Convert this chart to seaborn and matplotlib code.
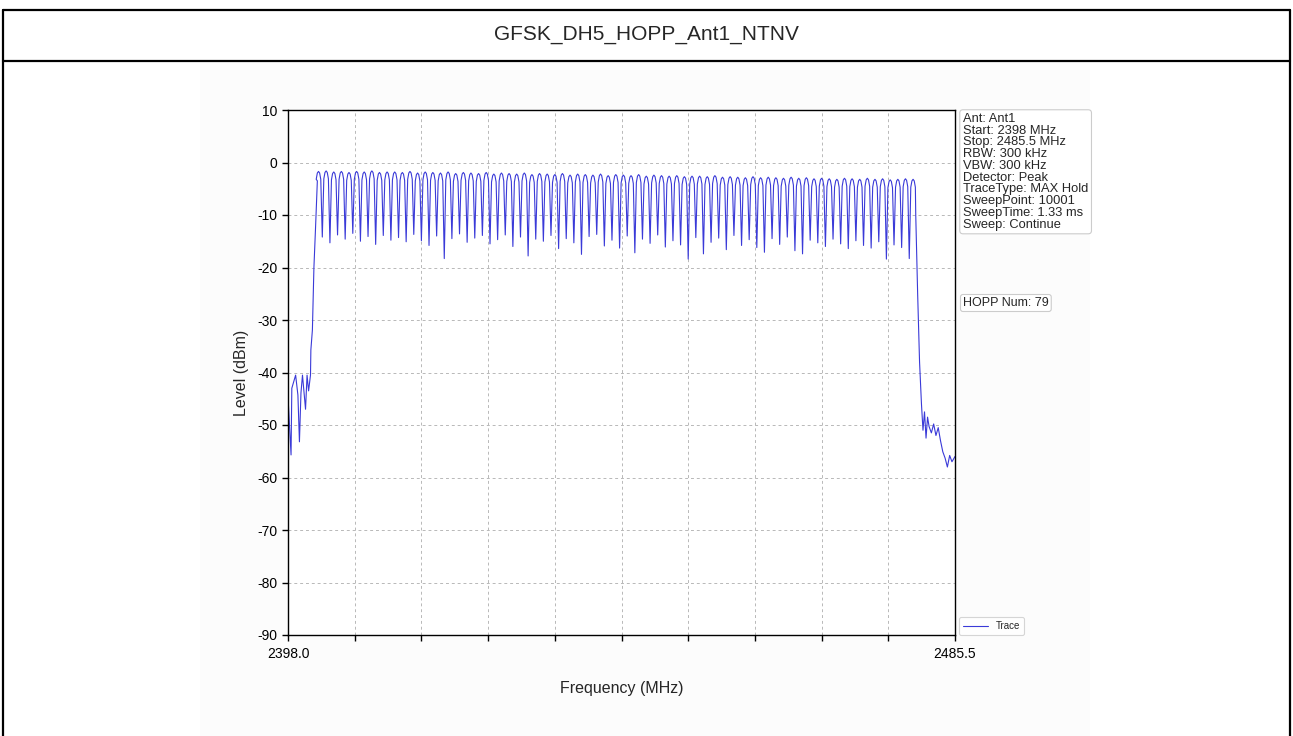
import numpy as np
import pandas as pd
import matplotlib
matplotlib.use("Agg")
import matplotlib.pyplot as plt
from matplotlib.lines import Line2D
from matplotlib.patches import Rectangle
import seaborn as sns

sns.set_theme(style="ticks")
plt.rcParams['font.family'] = ['Liberation Sans', 'DejaVu Sans']
plt.rcParams['axes.unicode_minus'] = False

# ---- data ----
TITLE = "GFSK_DH5_HOPP_Ant1_NTNV"
INFO_LINES = ["Ant: Ant1", "Start: 2398 MHz", "Stop: 2485.5 MHz", "RBW: 300 kHz",
              "VBW: 300 kHz", "Detector: Peak", "TraceType: MAX Hold",
              "SweepPoint: 10001", "SweepTime: 1.33 ms", "Sweep: Continue"]
HOPP_NUM = 79

START_MHZ = 2398.0
STOP_MHZ = 2485.5
Y_TICKS = [10, 0, -10, -20, -30, -40, -50, -60, -70, -80, -90]

# hopping channel centres (MHz)
CHANNEL_MHZ = [2402, 2403, 2404, 2405, 2406, 2407, 2408, 2409, 2410, 2411,
               2412, 2413, 2414, 2415, 2416, 2417, 2418, 2419, 2420, 2421,
               2422, 2423, 2424, 2425, 2426, 2427, 2428, 2429, 2430, 2431,
               2432, 2433, 2434, 2435, 2436, 2437, 2438, 2439, 2440, 2441,
               2442, 2443, 2444, 2445, 2446, 2447, 2448, 2449, 2450, 2451,
               2452, 2453, 2454, 2455, 2456, 2457, 2458, 2459, 2460, 2461,
               2462, 2463, 2464, 2465, 2466, 2467, 2468, 2469, 2470, 2471,
               2472, 2473, 2474, 2475, 2476, 2477, 2478, 2479, 2480]

# peak level of each channel (dBm)
PEAK_DBM = [-1.7, -1.6, -1.8, -1.7, -1.9, -1.7, -1.8, -1.6, -1.9, -1.8,
            -1.8, -1.9, -1.7, -2.0, -1.8, -1.9, -2.0, -1.8, -2.1, -1.9,
            -2.0, -2.1, -1.9, -2.2, -2.0, -2.1, -2.2, -2.0, -2.3, -2.1,
            -2.2, -2.3, -2.1, -2.4, -2.2, -2.3, -2.4, -2.2, -2.5, -2.3,
            -2.4, -2.5, -2.3, -2.6, -2.4, -2.5, -2.6, -2.5, -2.7, -2.6,
            -2.6, -2.7, -2.5, -2.8, -2.7, -2.8, -2.9, -2.7, -2.9, -2.8,
            -2.9, -3.0, -2.8, -3.0, -2.9, -3.1, -3.0, -3.1, -3.2, -3.0,
            -3.1, -3.2, -3.0, -3.2, -3.1, -3.3, -3.2, -3.1, -3.2]

# dip between neighbouring channels (dBm)
TROUGH_DBM = [-14.2, -15.3, -13.8, -14.6, -13.5, -15.0, -14.1, -15.6, -13.9, -14.8,
              -14.3, -15.1, -13.7, -14.9, -15.8, -14.0, -18.3, -14.5, -13.6, -15.2,
              -14.4, -13.9, -15.5, -14.7, -13.8, -16.0, -14.2, -17.8, -14.6, -15.0,
              -13.9, -16.4, -14.5, -15.3, -17.5, -14.1, -13.7, -15.9, -14.8, -16.3,
              -14.0, -17.2, -14.6, -15.4, -13.8, -16.1, -14.9, -15.7, -18.4, -14.3,
              -17.4, -15.2, -14.4, -16.6, -13.9, -15.8, -14.7, -16.2, -17.1, -14.5,
              -15.6, -14.2, -16.8, -17.4, -14.8, -15.3, -16.0, -14.6, -15.5, -16.4,
              -14.9, -15.8, -16.3, -15.1, -18.4, -15.7, -16.2, -18.3]

# out-of-band trace below the first channel
LEFT_MHZ = [2398.0, 2398.4, 2398.5, 2399.0, 2399.3, 2399.5, 2399.7, 2399.9,
            2400.05, 2400.3, 2400.5, 2400.7, 2400.95, 2401.0, 2401.2, 2401.4,
            2401.6, 2401.85]
LEFT_DBM = [-44.6, -55.7, -43.0, -40.5, -44.3, -53.2, -43.9, -40.5,
            -43.0, -47.0, -40.5, -43.5, -40.5, -35.7, -31.9, -20.0,
            -12.9, -3.5]

# out-of-band trace above the last channel
RIGHT_MHZ = [2480.35, 2480.6, 2480.85, 2481.1, 2481.3, 2481.5, 2481.7, 2481.9,
             2482.1, 2482.4, 2482.7, 2483.0, 2483.3, 2483.6, 2483.9, 2484.2,
             2484.5, 2484.8, 2485.1, 2485.5]
RIGHT_DBM = [-10.0, -25.0, -38.0, -46.0, -51.0, -47.5, -52.5, -48.5,
             -50.3, -51.5, -49.8, -52.0, -50.5, -53.0, -55.1, -56.3,
             -58.0, -55.8, -57.0, -56.0]

# ---- assemble the trace (rounded top, narrow dip per channel) ----
freqs, levels = list(LEFT_MHZ), list(LEFT_DBM)
for i, (f, p) in enumerate(zip(CHANNEL_MHZ, PEAK_DBM)):
    freqs += [f - 0.3, f - 0.15, f, f + 0.15, f + 0.3]
    levels += [p - 1.5, p - 0.3, p, p - 0.3, p - 1.5]
    if i < len(TROUGH_DBM):
        freqs.append(f + 0.5)
        levels.append(TROUGH_DBM[i])
freqs += RIGHT_MHZ
levels += RIGHT_DBM
df = pd.DataFrame({"freq": freqs, "level": levels})

# ---- figure ----
W, H = 1293, 736
fig = plt.figure(figsize=(W / 100, H / 100), dpi=100)
fig.patch.set_facecolor("white")

# faint background of the embedded screenshot
fig.add_artist(Rectangle((200 / W, 0), 890 / W, 1 - 62 / H,
                         transform=fig.transFigure, facecolor="#fcfcfc",
                         edgecolor="none", zorder=-5))

# report table borders
lw_b = 1.6
for xs, ys in [((3 / W, 1290 / W), (1 - 10 / H, 1 - 10 / H)),
               ((3 / W, 1290 / W), (1 - 61 / H, 1 - 61 / H)),
               ((3 / W, 3 / W), (0, 1 - 10 / H)),
               ((1290 / W, 1290 / W), (0, 1 - 10 / H))]:
    fig.add_artist(Line2D(xs, ys, transform=fig.transFigure, color="black",
                          linewidth=lw_b))
fig.text(0.5, 1 - 35 / H, TITLE, ha="center", va="center", fontsize=15)

ax = fig.add_axes([288 / W, 1 - 635 / H, (955 - 288) / W, (635 - 110) / H])
sns.lineplot(data=df, x="freq", y="level", ax=ax, sort=False, estimator=None,
             color="#3a3ad8", linewidth=0.8, label="Trace")

ax.set_xlim(START_MHZ, STOP_MHZ)
ax.set_ylim(-90, 10)
xt = np.linspace(START_MHZ, STOP_MHZ, 11)
ax.set_xticks(xt)
ax.set_xticklabels([f"{START_MHZ:.1f}"] + [""] * 9 + [f"{STOP_MHZ:.1f}"])
ax.set_yticks(Y_TICKS)
ax.tick_params(direction="out", length=4, width=1, labelsize=10, colors="black")
ax.tick_params(axis="x", pad=5)
ax.grid(True, color="#b8b8b8", linestyle=(0, (3, 3)), linewidth=0.7)
for s in ax.spines.values():
    s.set_color("black")
    s.set_linewidth(1.0)
ax.set_xlabel("Frequency (MHz)", fontsize=11.5, labelpad=14)
ax.set_ylabel("Level (dBm)", fontsize=11.5, labelpad=6)

leg = ax.legend(loc="lower left", bbox_to_anchor=(1.006, 0.0), fontsize=7,
                handlelength=2.6, frameon=True, borderaxespad=0)
leg.get_frame().set_edgecolor("#cccccc")
leg.get_frame().set_linewidth(0.8)

bbox_style = dict(boxstyle="round,pad=0.25", facecolor="white",
                  edgecolor="#cccccc", linewidth=0.8)
fig.text(963 / W, 1 - 113 / H, "\n".join(INFO_LINES), ha="left", va="top",
         fontsize=9.3, linespacing=0.97, bbox=bbox_style)
fig.text(963 / W, 1 - 303 / H, f"HOPP Num: {HOPP_NUM}", ha="left",
         va="center", fontsize=9, bbox=dict(boxstyle="round,pad=0.2",
                                            facecolor="white",
                                            edgecolor="#cccccc",
                                            linewidth=0.8))

fig.savefig("out.png", dpi=100)
